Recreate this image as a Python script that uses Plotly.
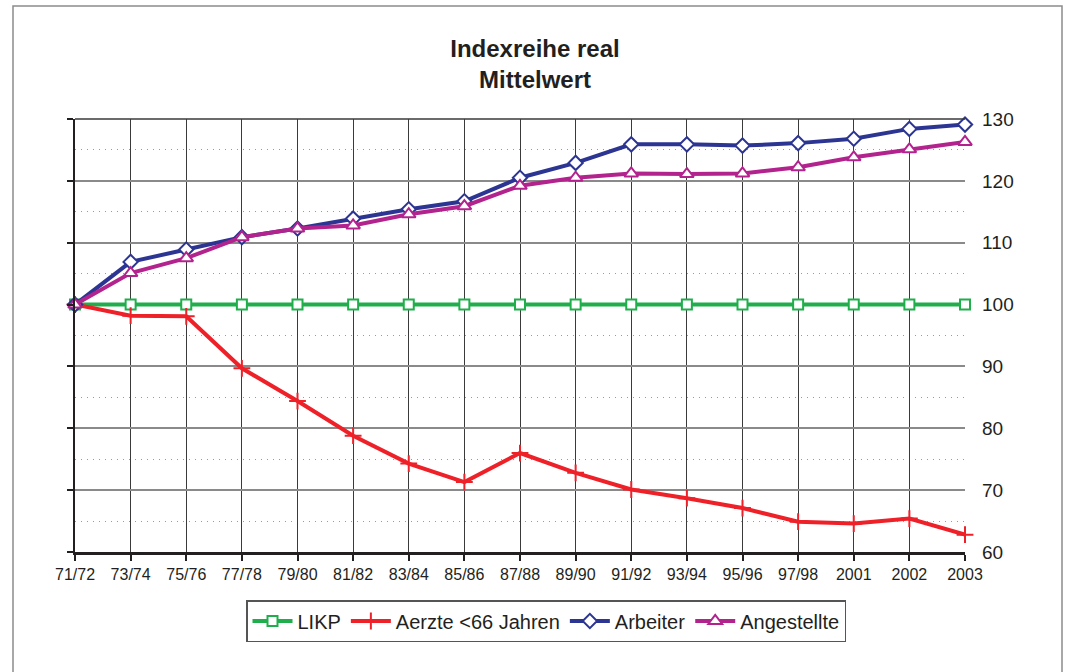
import plotly.graph_objects as go

categories = ["71/72", "73/74", "75/76", "77/78", "79/80", "81/82", "83/84", "85/86",
              "87/88", "89/90", "91/92", "93/94", "95/96", "97/98", "2001", "2002", "2003"]
likp = [100] * 17
aerzte = [100.0, 98.2, 98.1, 89.7, 84.4, 78.8, 74.3, 71.3, 76.0, 72.8, 70.1, 68.7, 67.1, 64.9, 64.6, 65.4, 62.8]
arbeiter = [100.0, 106.9, 108.9, 110.9, 112.3, 113.9, 115.4, 116.7, 120.5, 122.9, 125.9, 125.9, 125.7, 126.1, 126.8, 128.4, 129.1]
angestellte = [100.0, 105.1, 107.5, 110.9, 112.3, 112.8, 114.6, 115.9, 119.2, 120.5, 121.2, 121.1, 121.2, 122.2, 123.8, 125.1, 126.3]
y_ticks = [60, 70, 80, 90, 100, 110, 120, 130]

xs = list(range(len(categories)))

GREEN = "#1fae4b"
RED = "#ee2129"
BLUE = "#2c3592"
MAG = "#b3238e"
FONT = "Liberation Sans, Arial, sans-serif"

fig = go.Figure()
fig.add_trace(go.Scatter(
    x=xs, y=likp, name="LIKP", mode="lines+markers", cliponaxis=False,
    line=dict(color=GREEN, width=4),
    marker=dict(symbol="square", size=10, color="white", line=dict(color=GREEN, width=2))))
fig.add_trace(go.Scatter(
    x=xs, y=aerzte, name="Aerzte <66 Jahren", mode="lines+markers", cliponaxis=False,
    line=dict(color=RED, width=4),
    marker=dict(symbol="cross-thin", size=12, color=RED, line=dict(color=RED, width=2))))
fig.add_trace(go.Scatter(
    x=xs, y=arbeiter, name="Arbeiter", mode="lines+markers", cliponaxis=False,
    line=dict(color=BLUE, width=4),
    marker=dict(symbol="diamond", size=11, color="white", line=dict(color=BLUE, width=2))))
fig.add_trace(go.Scatter(
    x=xs, y=angestellte, name="Angestellte", mode="lines+markers", cliponaxis=False,
    line=dict(color=MAG, width=4),
    marker=dict(symbol="triangle-up", size=12, color="white", line=dict(color=MAG, width=2))))

# outer frame
L, R, T, B = 75, 965, 119, 552
W, H = R - L, B - T
def px(x):
    return (x - L) / W
def py(y):
    return (B - y) / H

fig.add_shape(type="rect", xref="paper", yref="paper",
              x0=px(13), x1=px(1062), y0=py(6), y1=py(700),
              line=dict(color="#8c8c8c", width=1.5), fillcolor="rgba(0,0,0,0)", layer="below")

fig.update_layout(
    width=1069, height=672,
    margin=dict(l=L, r=1069 - R, t=T, b=672 - B),
    paper_bgcolor="white", plot_bgcolor="white",
    font=dict(family=FONT, color="#231f20"),
    title=dict(text="<b>Indexreihe real<br>Mittelwert</b>", xref="container", x=535 / 1069,
               xanchor="center", yref="container", y=1 - 57 / 672, yanchor="middle",
               font=dict(size=24, family=FONT, color="#231f20")),
    xaxis=dict(
        range=[0, 16], tickvals=xs, ticktext=categories,
        showgrid=True, gridcolor="#3a3a3a", gridwidth=1,
        showline=True, linecolor="#231f20", linewidth=2.5,
        ticks="outside", ticklen=6, tickcolor="#231f20", tickwidth=1.5,
        tickfont=dict(size=16, family=FONT, color="#231f20"),
        zeroline=False, mirror=False),
    yaxis=dict(
        range=[60, 130], tickvals=y_ticks, side="right",
        showgrid=True, gridcolor="#8a8a8a", gridwidth=1.5,
        showline=False, zeroline=False,
        ticks="", ticklabelstandoff=16,
        tickfont=dict(size=19, family=FONT, color="#231f20"),
        minor=dict(dtick=5, tick0=60, showgrid=True, gridcolor="#9a9a9a", gridwidth=1,
                   griddash="1px,5px", ticks="")),
    yaxis2=dict(
        range=[60, 130], overlaying="y", side="left", tickvals=y_ticks,
        showticklabels=False, showgrid=False, zeroline=False,
        showline=True, linecolor="#231f20", linewidth=2,
        ticks="outside", ticklen=6, tickcolor="#231f20", tickwidth=2),
    showlegend=True,
    legend=dict(orientation="h", x=px(546), xanchor="center", y=py(600), yanchor="top",
                bordercolor="#555555", borderwidth=1.5, bgcolor="white",
                font=dict(size=20, family=FONT, color="#231f20"),
                itemwidth=40, tracegroupgap=0),
)
# dummy trace to activate yaxis2
fig.add_trace(go.Scatter(x=[0], y=[100], yaxis="y2", showlegend=False, hoverinfo="skip",
                         mode="markers", marker=dict(opacity=0)))

# top border line of plot area
fig.add_shape(type="line", xref="paper", yref="paper", x0=0, x1=1, y0=1, y1=1,
              line=dict(color="#3a3a3a", width=1.5))

fig.write_html("out.html", config={"displayModeBar": False},
               post_script="document.body.style.margin='0';document.body.style.overflow='hidden';")
